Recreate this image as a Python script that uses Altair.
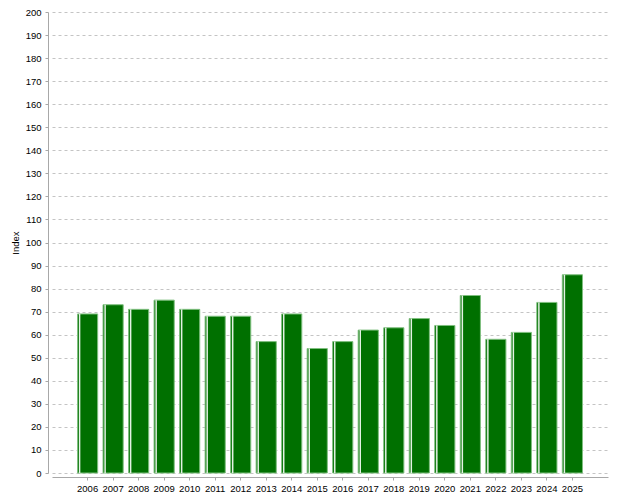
import altair as alt
import pandas as pd

years = [str(y) for y in range(2006, 2026)]
values = [69, 73, 71, 75, 71, 68, 68, 57, 69, 54, 57, 62, 63, 67, 64, 77, 58, 61, 74, 86]

df = pd.DataFrame({"year": years, "value": values})

FONT = "Liberation Sans"

x = alt.X("year:O", title=None, sort=years,
          scale=alt.Scale(paddingInner=0.21, paddingOuter=1),
          axis=alt.Axis(labelAngle=0, offset=4, domainColor="#a8a8a8", tickColor="#a8a8a8",
                        tickSize=3, labelPadding=3, labelFont=FONT, labelFontSize=9.5,
                        labelColor="#000000", grid=False, labelOverlap=False))
y = alt.Y("value:Q", title="Index",
          scale=alt.Scale(domain=[0, 200], nice=False),
          axis=alt.Axis(values=list(range(0, 201, 10)), offset=4, domainColor="#a8a8a8",
                        tickColor="#a8a8a8", tickSize=3, labelPadding=4, labelFont=FONT,
                        labelFontSize=9.5, labelColor="#000000", grid=True,
                        labelOverlap=False,
                        gridDash=[3, 3], gridColor="#c4c4c4", titleFont=FONT,
                        titleFontSize=9.5, titleFontWeight="normal", titleColor="#000000",
                        titlePadding=5))

base = alt.Chart(df)
bars = base.mark_bar(color="#007000", stroke="#7fbf7f", strokeWidth=1).encode(x=x, y=y)
stripe = base.mark_rule(color="#e4f2e4", strokeWidth=1.5, xOffset=-8).encode(
    x=x, y=y, y2=alt.datum(0))

chart = alt.layer(bars, stripe).properties(
    width=556, height=461,
    padding={"left": 44, "top": 4, "right": 4, "bottom": 25},
    autosize=alt.AutoSizeParams(type="none"),
).configure(background="white").configure_view(strokeWidth=0)

chart.save("out.html", embed_options={"renderer": "svg", "actions": False})
